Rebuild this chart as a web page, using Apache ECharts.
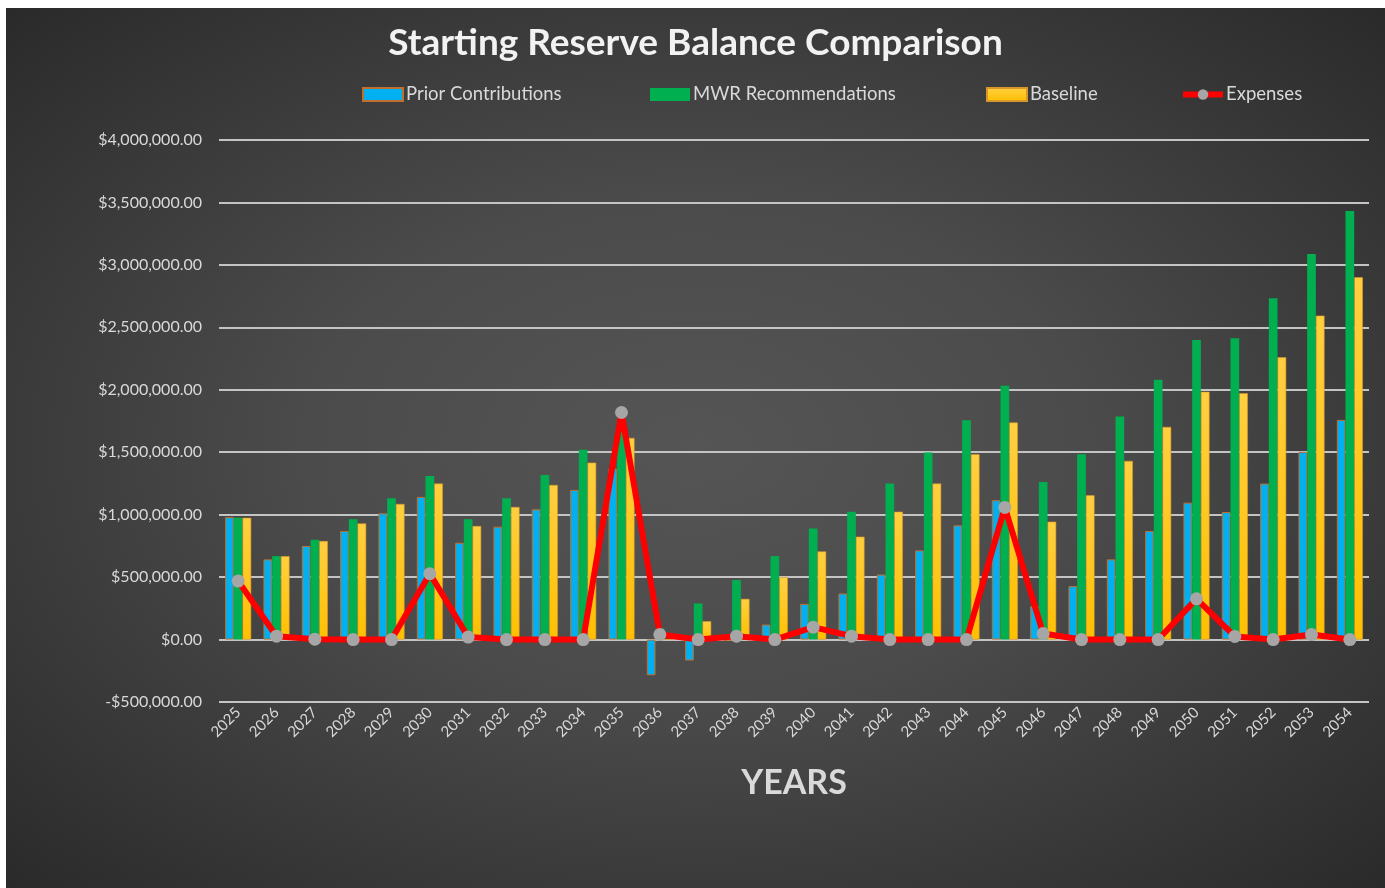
<!DOCTYPE html>
<html>
<head>
<meta charset="utf-8">
<script src="https://cdn.jsdelivr.net/npm/echarts@6/dist/echarts.min.js"></script>
<style>
  html, body { margin: 0; padding: 0; background: #ffffff; width: 1385px; height: 888px; overflow: hidden; }
  #chart { position: absolute; left: 6px; top: 8px; width: 1379px; height: 880px;
    background: radial-gradient(ellipse at 50% 50%, #555555 0%, #4b4b4b 40%, #2a2a2a 100%); }
</style>
</head>
<body>
<div id="chart"></div>
<script>
const years = ['2025','2026','2027','2028','2029','2030','2031','2032','2033','2034','2035','2036','2037','2038','2039','2040','2041','2042','2043','2044','2045','2046','2047','2048','2049','2050','2051','2052','2053','2054'];
const priorContributions = [980000, 642000, 749000, 869000, 1011000, 1142000, 775000, 904000, 1043000, 1198000, 1369000, -286000, -168000, -8000, 120000, 286000, 369000, 521000, 714000, 915000, 1116000, 267000, 428000, 642000, 869000, 1096000, 1021000, 1249000, 1503000, 1759000];
const mwrRecommendations = [975000, 668000, 800000, 963000, 1131000, 1310000, 963000, 1131000, 1318000, 1519000, 1660000, 90000, 289000, 476000, 668000, 890000, 1024000, 1249000, 1497000, 1757000, 2032000, 1262000, 1484000, 1786000, 2080000, 2399000, 2412000, 2733000, 3088000, 3431000];
const baseline = [975000, 668000, 789000, 930000, 1086000, 1249000, 909000, 1062000, 1238000, 1417000, 1615000, 0, 147000, 326000, 500000, 706000, 824000, 1024000, 1249000, 1484000, 1738000, 944000, 1155000, 1431000, 1703000, 1984000, 1973000, 2260000, 2594000, 2901000];
const expenses = [468000, 27000, 3000, 0, 0, 527000, 20000, 0, 0, 0, 1818000, 40000, 0, 27000, 0, 99000, 27000, 0, 0, 0, 1058000, 48000, 0, 0, 0, 326000, 25000, 0, 40000, 0];
const yTicks = { min: -500000, max: 4000000, step: 500000 };

const txt = '#d9d9d9';
const font = 'Lato, "Open Sans", sans-serif';
const chart = echarts.init(document.getElementById('chart'), null, { renderer: 'canvas' });

function fmtMoney(v) {
  const neg = v < 0;
  const s = Math.abs(v).toFixed(2).replace(/\B(?=(\d{3})+(?!\d))/g, ',');
  return (neg ? '-$' : '$') + s;
}

function legendAt(name, left, isLine) {
  const l = {
    data: [name], left: left, top: 77, padding: 0, itemWidth: 40, itemHeight: 13, itemGap: 4,
    textStyle: { color: txt, fontSize: 18.5, fontFamily: font, padding: [0, 0, 0, -2] }
  };
  if (isLine) {
    l.lineStyle = { width: 6 };
  } else {
    l.icon = 'rect';
  }
  return l;
}

chart.setOption({
  backgroundColor: 'transparent',
  title: {
    text: 'Starting Reserve Balance Comparison', left: 'center', top: 12,
    textStyle: { color: '#f2f2f2', fontSize: 37, fontWeight: 'bold', fontFamily: font }
  },
  legend: [
    legendAt('Prior Contributions', 356),
    legendAt('MWR Recommendations', 644),
    legendAt('Baseline', 980),
    legendAt('Expenses', 1174, true)
  ],
  grid: { left: 213, right: 16, top: 132, bottom: 186 },
  xAxis: {
    type: 'category', data: years,
    axisLine: { show: false, onZero: false },
    axisTick: { show: false },
    axisLabel: { color: txt, fontSize: 15, fontFamily: font, rotate: 45, margin: 8, interval: 0 },
    name: 'YEARS', nameLocation: 'middle', nameGap: 64,
    nameTextStyle: { color: txt, fontSize: 34, fontWeight: 'bold', fontFamily: font }
  },
  yAxis: {
    type: 'value', min: yTicks.min, max: yTicks.max, interval: yTicks.step,
    axisLine: { show: false }, axisTick: { show: false },
    axisLabel: { color: txt, fontSize: 16, fontFamily: font, margin: 17, formatter: fmtMoney },
    splitLine: { lineStyle: { color: '#c4c4c4', width: 2 } }
  },
  series: [
    {
      name: 'Prior Contributions', type: 'bar', data: priorContributions,
      barGap: '0%', barCategoryGap: '32%',
      itemStyle: { color: '#00b0f0', borderColor: '#c0702e', borderWidth: 1 }
    },
    {
      name: 'MWR Recommendations', type: 'bar', data: mwrRecommendations,
      barGap: '0%', barCategoryGap: '32%',
      itemStyle: { color: '#00b050' }
    },
    {
      name: 'Baseline', type: 'bar', data: baseline,
      barGap: '0%', barCategoryGap: '32%',
      itemStyle: {
        color: new echarts.graphic.LinearGradient(0, 0, 0, 1, [
          { offset: 0, color: '#ffcf40' }, { offset: 1, color: '#ffc000' }
        ]),
        borderColor: '#d9962a', borderWidth: 0.6
      }
    },
    {
      name: 'Expenses', type: 'line', data: expenses, z: 5,
      symbol: 'circle', symbolSize: 13,
      lineStyle: { color: '#ff0000', width: 6 },
      itemStyle: { color: '#a6a6a6' }
    }
  ]
});
</script>
</body>
</html>
